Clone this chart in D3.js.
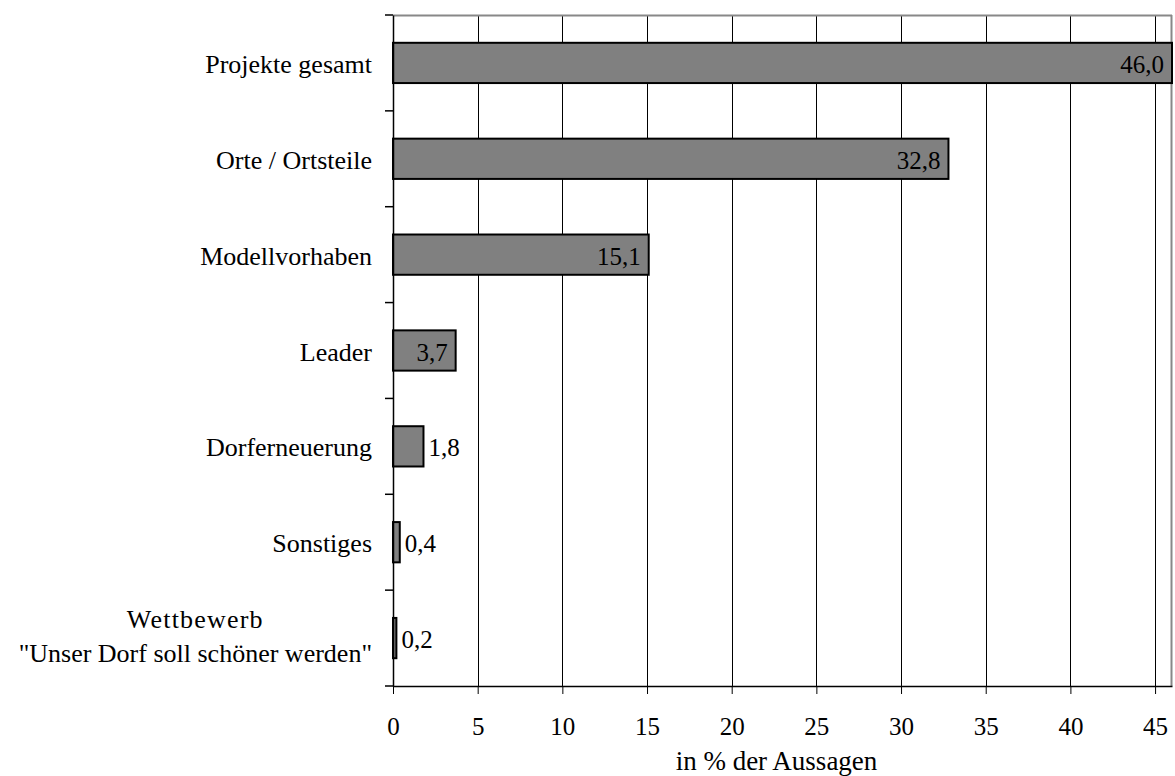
<!DOCTYPE html>
<html>
<head>
<meta charset="utf-8">
<script src="https://cdn.jsdelivr.net/npm/d3@7"></script>
<style>
  html, body { margin: 0; padding: 0; background: #fff; }
  svg { display: block; }
  text { font-family: "Liberation Serif", "Times New Roman", serif; fill: #000; }
</style>
</head>
<body>
<svg id="chart" width="1175" height="776"></svg>
<script>
const categories = [
  ["Projekte gesamt"],
  ["Orte / Ortsteile"],
  ["Modellvorhaben"],
  ["Leader"],
  ["Dorferneuerung"],
  ["Sonstiges"],
  ["Wettbewerb", "\"Unser Dorf soll schöner werden\""]
];
const values = [46.0, 32.8, 15.1, 3.7, 1.8, 0.4, 0.2];
const valueLabels = ["46,0", "32,8", "15,1", "3,7", "1,8", "0,4", "0,2"];
const insideLabel = [true, true, true, true, false, false, false];
const xTicks = [0, 5, 10, 15, 20, 25, 30, 35, 40, 45];
const xTitle = "in % der Aussagen";

const W = 1175, H = 776;
const m = { left: 393, right: 3, top: 15, bottom: 90 };
const pw = W - m.left - m.right, ph = H - m.top - m.bottom;
const FS_CAT = 26, FS_VAL = 25, FS_TICK = 25, FS_TITLE = 27;

const svg = d3.select("#chart");
const g = svg.append("g").attr("transform", `translate(${m.left},${m.top})`);

const x = d3.scaleLinear().domain([0, 46]).range([0, pw]);
const y = d3.scaleBand().domain(d3.range(categories.length)).range([0, ph]).paddingInner(0.58).paddingOuter(0.29);
const yb = d3.scaleBand().domain(d3.range(categories.length)).range([0, ph]);

// gridlines
g.append("g").selectAll("line").data(xTicks.filter(d => d > 0)).join("line")
  .attr("x1", d => Math.round(x(d)) + 0.5).attr("x2", d => Math.round(x(d)) + 0.5)
  .attr("y1", 0).attr("y2", ph).attr("stroke", "#000").attr("stroke-width", 1);

// frame top/right grey
g.append("line").attr("x1", 0).attr("x2", pw).attr("y1", 0.5).attr("y2", 0.5).attr("stroke", "#888").attr("stroke-width", 2);
g.append("line").attr("x1", pw - 0.5).attr("x2", pw - 0.5).attr("y1", 0).attr("y2", ph).attr("stroke", "#888").attr("stroke-width", 2);

// bars
g.append("g").selectAll("rect").data(values).join("rect")
  .attr("x", 0).attr("y", (d, i) => y(i))
  .attr("width", d => x(d)).attr("height", y.bandwidth())
  .attr("fill", "#808080").attr("stroke", "#000").attr("stroke-width", 2);

// value labels
g.append("g").selectAll("text").data(values).join("text")
  .attr("x", (d, i) => insideLabel[i] ? x(d) - 8 : x(d) + 5)
  .attr("y", (d, i) => y(i) + y.bandwidth() / 2 + 10)
  .attr("text-anchor", (d, i) => insideLabel[i] ? "end" : "start")
  .attr("font-size", FS_VAL)
  .text((d, i) => valueLabels[i]);

// y axis
const yAxis = d3.axisLeft(yb).tickValues([]).tickSizeOuter(0);
const ya = g.append("g").call(yAxis);
ya.select(".domain").attr("stroke", "#000").attr("stroke-width", 1.5);
ya.append("g").selectAll("line").data(d3.range(categories.length + 1)).join("line")
  .attr("x1", -8).attr("x2", 0)
  .attr("y1", d => d * yb.step()).attr("y2", d => d * yb.step())
  .attr("stroke", "#000").attr("stroke-width", 1.5);

// category labels
const lab = g.append("g");
categories.forEach((lines, i) => {
  const cy = yb(i) + yb.bandwidth() / 2;
  if (lines.length === 1) {
    lab.append("text").attr("x", -21).attr("y", cy + 10).attr("text-anchor", "end")
      .attr("font-size", FS_CAT).text(lines[0]);
  } else {
    const t = lab.append("text").attr("font-size", FS_CAT).attr("text-anchor", "middle");
    lines.forEach((l, k) => t.append("tspan").attr("y", cy - 10 + k * 34).text(l));
    let maxW = 0;
    t.selectAll("tspan").each(function () { maxW = Math.max(maxW, this.getComputedTextLength()); });
    t.selectAll("tspan").attr("x", -21 - maxW / 2);
    t.select("tspan").attr("letter-spacing", 1.2);
  }
});

// x axis
const xAxis = d3.axisBottom(x).tickValues(xTicks).tickSize(8).tickPadding(23).tickSizeOuter(0).tickFormat(d3.format("d"));
const xa = g.append("g").attr("transform", `translate(0,${ph})`).call(xAxis);
xa.attr("font-family", null).attr("font-size", null);
xa.select(".domain").attr("stroke", "#000").attr("stroke-width", 1.5);
xa.selectAll(".tick line").attr("stroke", "#000");
xa.selectAll(".tick text").attr("font-size", FS_TICK);

// x title
g.append("text").attr("x", x(23) - 6).attr("y", ph + 84).attr("text-anchor", "middle")
  .attr("font-size", FS_TITLE).text(xTitle);
</script>
</body>
</html>
